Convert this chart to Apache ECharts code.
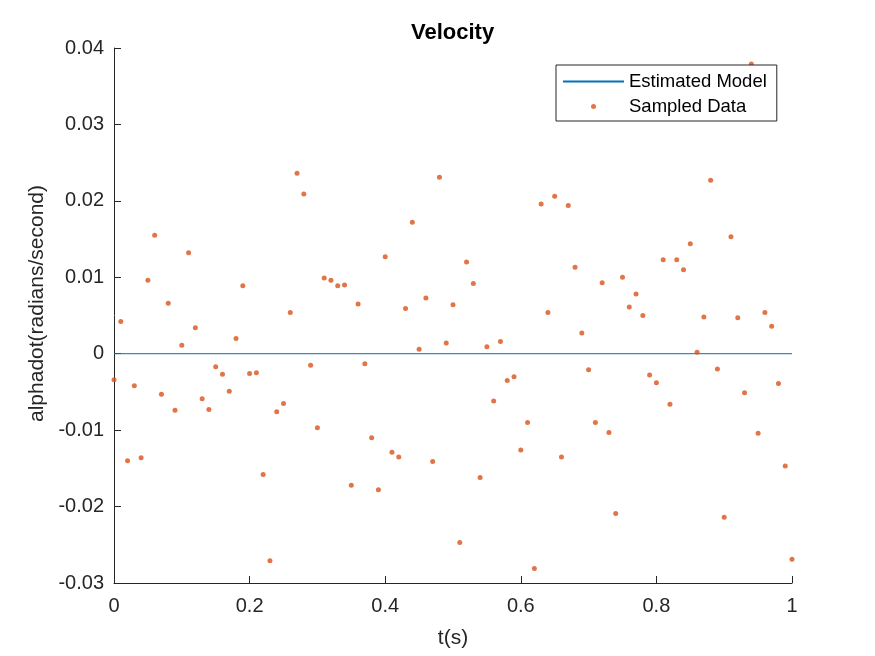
<!DOCTYPE html>
<html>
<head>
<meta charset="utf-8">
<title>Velocity</title>
<script src="https://cdn.jsdelivr.net/npm/echarts@6/dist/echarts.min.js"></script>
<style>
  html, body { margin: 0; padding: 0; background: #fff; }
  #main { width: 875px; height: 656px; }
</style>
</head>
<body>
<div id="main"></div>
<script>
// sample times (s)
var tValues = [
  0.00, 0.01, 0.02, 0.03, 0.04, 0.05, 0.06, 0.07, 0.08, 0.09,
  0.10, 0.11, 0.12, 0.13, 0.14, 0.15, 0.16, 0.17, 0.18, 0.19,
  0.20, 0.21, 0.22, 0.23, 0.24, 0.25, 0.26, 0.27, 0.28, 0.29,
  0.30, 0.31, 0.32, 0.33, 0.34, 0.35, 0.36, 0.37, 0.38, 0.39,
  0.40, 0.41, 0.42, 0.43, 0.44, 0.45, 0.46, 0.47, 0.48, 0.49,
  0.50, 0.51, 0.52, 0.53, 0.54, 0.55, 0.56, 0.57, 0.58, 0.59,
  0.60, 0.61, 0.62, 0.63, 0.64, 0.65, 0.66, 0.67, 0.68, 0.69,
  0.70, 0.71, 0.72, 0.73, 0.74, 0.75, 0.76, 0.77, 0.78, 0.79,
  0.80, 0.81, 0.82, 0.83, 0.84, 0.85, 0.86, 0.87, 0.88, 0.89,
  0.90, 0.91, 0.92, 0.93, 0.94, 0.95, 0.96, 0.97, 0.98, 0.99,
  1.00
];

// sampled alphadot (rad/s)
var sampledValues = [
  -0.0034,  0.0042, -0.0140, -0.0042, -0.0136,  0.0096,  0.0155, -0.0053,  0.0066, -0.0074,
   0.0011,  0.0132,  0.0034, -0.0059, -0.0073, -0.0017, -0.0027, -0.0049,  0.0020,  0.0089,
  -0.0026, -0.0025, -0.0158, -0.0271, -0.0076, -0.0065,  0.0054,  0.0236,  0.0209, -0.0015,
  -0.0097,  0.0099,  0.0096,  0.0089,  0.0090, -0.0172,  0.0065, -0.0013, -0.0110, -0.0178,
   0.0127, -0.0129, -0.0135,  0.0059,  0.0172,  0.0006,  0.0073, -0.0141,  0.0231,  0.0014,
   0.0064, -0.0247,  0.0120,  0.0092, -0.0162,  0.0009, -0.0062,  0.0016, -0.0035, -0.0030,
  -0.0126, -0.0090, -0.0281,  0.0196,  0.0054,  0.0206, -0.0135,  0.0194,  0.0113,  0.0027,
  -0.0021, -0.0090,  0.0093, -0.0103, -0.0209,  0.0100,  0.0061,  0.0078,  0.0050, -0.0028,
  -0.0038,  0.0123, -0.0066,  0.0123,  0.0110,  0.0144,  0.0002,  0.0048,  0.0227, -0.0020,
  -0.0214,  0.0153,  0.0047, -0.0051,  0.0379, -0.0104,  0.0054,  0.0036, -0.0039, -0.0147,
  -0.0269
];

// estimated model (flat at zero)
var modelT = [0, 1];
var modelValues = [0, 0];

var xTickLabels = ['0', '0.2', '0.4', '0.6', '0.8', '1'];
var yTickLabels = ['-0.03', '-0.02', '-0.01', '0', '0.01', '0.02', '0.03', '0.04'];

var FONT = 'Liberation Sans, Arial, Helvetica, sans-serif';
var AXIS_COLOR = '#262626';

var sampledData = tValues.map(function (t, i) { return [t, sampledValues[i]]; });
var modelData = modelT.map(function (t, i) { return [t, modelValues[i]]; });

var myChart = echarts.init(document.getElementById('main'));

var option = {
  animation: false,
  backgroundColor: '#fff',
  title: {
    text: 'Velocity',
    left: 406,
    top: 17,
    textStyle: { fontFamily: FONT, fontSize: 22, fontWeight: 'bold', color: '#000' }
  },
  legend: {
    orient: 'vertical',
    left: 556,
    top: 65,
    padding: [7, 10, 5, 6],
    itemWidth: 61,
    itemHeight: 5,
    itemGap: 6,
    backgroundColor: '#fff',
    borderColor: AXIS_COLOR,
    borderWidth: 1,
    borderRadius: 0,
    textStyle: { fontFamily: FONT, fontSize: 18.5, lineHeight: 18, color: '#000' },
    data: [
      { name: 'Estimated Model', itemStyle: { opacity: 0 } },
      { name: 'Sampled Data', icon: 'circle' }
    ]
  },
  grid: { left: 114, right: 83, top: 48, bottom: 73 },
  xAxis: {
    type: 'value',
    min: 0,
    max: 1,
    interval: 0.2,
    name: 't(s)',
    nameLocation: 'middle',
    nameGap: 45,
    nameTextStyle: { fontFamily: FONT, fontSize: 21, color: AXIS_COLOR },
    axisLine: { show: true, onZero: false, lineStyle: { color: AXIS_COLOR, width: 1 } },
    axisTick: { show: true, inside: true, length: 7, lineStyle: { color: AXIS_COLOR } },
    axisLabel: {
      fontFamily: FONT, fontSize: 20, color: AXIS_COLOR, margin: 13,
      formatter: function (v) { return xTickLabels[Math.round(v / 0.2)]; }
    },
    splitLine: { show: false }
  },
  yAxis: {
    type: 'value',
    min: -0.03,
    max: 0.04,
    interval: 0.01,
    name: 'alphadot(radians/second)',
    nameLocation: 'middle',
    nameGap: 66,
    nameTextStyle: { fontFamily: FONT, fontSize: 21, color: AXIS_COLOR, padding: [0, 0, 0, 24] },
    axisLine: { show: true, onZero: false, lineStyle: { color: AXIS_COLOR, width: 1 } },
    axisTick: { show: true, inside: true, length: 7, lineStyle: { color: AXIS_COLOR } },
    axisLabel: {
      fontFamily: FONT, fontSize: 20, color: AXIS_COLOR, margin: 10,
      formatter: function (v) { return yTickLabels[Math.round(v / 0.01) + 3]; }
    },
    splitLine: { show: false }
  },
  series: [
    {
      name: 'Estimated Model',
      type: 'line',
      data: modelData,
      symbol: 'none',
      color: '#0072BD',
      lineStyle: { color: '#0072BD', width: 1 },
      z: 2
    },
    {
      name: 'Sampled Data',
      type: 'scatter',
      data: sampledData,
      symbol: 'circle',
      symbolSize: 5,
      color: '#D95319',
      itemStyle: { color: '#D95319' },
      z: 3
    }
  ]
};

myChart.setOption(option);
</script>
</body>
</html>
